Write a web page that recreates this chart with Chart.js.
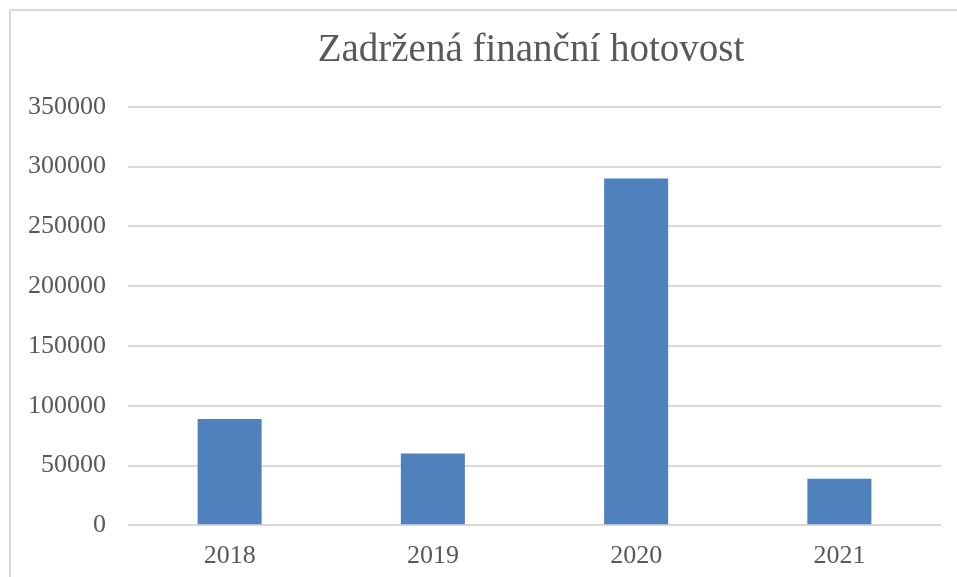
<!DOCTYPE html>
<html>
<head>
<meta charset="utf-8">
<script src="https://cdn.jsdelivr.net/npm/chart.js@4"></script>
<style>
  html, body { margin: 0; padding: 0; background: #fff; overflow: hidden; }
  #box { position: absolute; left: 9px; top: 9px; width: 1040px; height: 600px; border: 2px solid #d9d9d9; }
</style>
</head>
<body>
<div id="box"><canvas id="chart" width="1040" height="600"></canvas></div>
<script>
var years = ['2018', '2019', '2020', '2021'];
var cash = [89000, 60000, 290000, 39000];
var chartTitle = 'Zadržená finanční hotovost';

var ctx = document.getElementById('chart').getContext('2d');

var myBarChart = new Chart(ctx, {
    type: 'bar',
    data: {
        labels: years,
        datasets: [{
            label: chartTitle,
            data: cash,
            backgroundColor: '#4f81bd',
            categoryPercentage: 1,
            barPercentage: 0.315
        }]
    },
    options: {
        responsive: false,
        animation: false,
        layout: { padding: { left: 0, right: 0, top: 0, bottom: 32.5 } },
        plugins: {
            legend: { display: false },
            tooltip: { enabled: false },
            title: {
                display: true,
                text: chartTitle,
                color: '#595959',
                font: { family: 'Liberation Serif', size: 39, weight: 'normal' },
                padding: { top: 16, bottom: 33 }
            }
        },
        scales: {
            x: {
                grid: { display: false },
                border: { display: false },
                ticks: {
                    color: '#595959',
                    padding: 7,
                    font: { family: 'Liberation Serif', size: 26 }
                }
            },
            y: {
                min: 0,
                max: 350000,
                afterFit: function (scale) { scale.width = 117; },
                grid: { color: '#d9d9d9', lineWidth: 2, drawTicks: false },
                border: { display: false },
                ticks: {
                    stepSize: 50000,
                    color: '#595959',
                    padding: 22,
                    font: { family: 'Liberation Serif', size: 26 },
                    callback: function (value) { return String(value); }
                }
            },
            // empty right-hand space so the title stays centred on the whole box
            yRight: {
                position: 'right',
                display: true,
                afterFit: function (scale) { scale.width = 110; },
                grid: { display: false },
                border: { display: false },
                ticks: { display: false }
            }
        }
    }
});
</script>
</body>
</html>
